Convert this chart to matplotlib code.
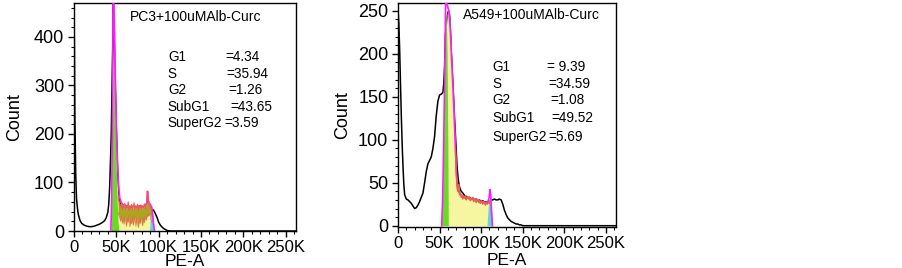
import numpy as np
import matplotlib.pyplot as plt
from matplotlib.ticker import MultipleLocator, FuncFormatter

plt.rcParams['font.family'] = ['Liberation Sans', 'DejaVu Sans']

# ---- PC3 panel (x in K) ----
pc3_x = [0, 0.5, 1, 2, 3, 4, 5, 7, 9, 12, 15, 18, 21, 24, 27, 30, 33, 36, 38, 40, 41, 42,
         43, 44, 45, 46, 46.5, 47, 48, 49, 50, 51, 52, 53, 54, 56, 58, 60, 64, 68, 72, 76,
         80, 84, 88, 90, 92, 94, 96, 98, 100, 102, 104, 106, 108, 110, 114, 262]
pc3_y = [460, 380, 240, 120, 66, 48, 35, 22, 16, 12, 10, 9, 9, 10, 12, 14, 17, 21, 27, 39, 55, 85,
         140, 200, 310, 410, 470, 430, 350, 280, 210, 150, 100, 75, 60, 48, 42, 40, 38, 36, 37, 36,
         38, 37, 40, 42, 44, 43, 36, 28, 18, 12, 8, 5, 3, 1, 0, 0]

pc3_g1_x = [44, 45, 46, 47, 48, 49, 50, 51, 52, 53]
pc3_g1_y = [0, 110, 320, 450, 390, 240, 130, 60, 20, 0]

pc3_sfit_x = [45, 46, 47, 48, 49, 50, 51, 52, 54, 56, 60, 70, 80, 90, 92, 93]
pc3_sfit_y = [0, 150, 300, 280, 200, 130, 90, 70, 50, 40, 32, 28, 27, 27, 25, 0]

pc3_s_x = np.arange(52, 93)
pc3_s_hi = [70, 62, 55, 50, 58, 45, 52, 48, 57, 44, 50, 47, 60, 42, 52, 46, 55, 44, 50, 58,
            43, 52, 47, 55, 42, 50, 46, 54, 45, 52, 48, 56, 50, 46, 66, 80, 62, 56, 50, 45, 38]
pc3_s_lo = [38, 32, 28, 20, 30, 16, 26, 14, 30, 20, 10, 26, 18, 32, 9, 24, 15, 28, 12, 22,
            30, 10, 26, 18, 7, 24, 15, 28, 20, 11, 26, 17, 30, 22, 28, 34, 30, 36, 30, 22, 18]

pc3_g2_x = [89, 90, 91, 92, 93, 94, 95, 96]
pc3_g2_y = [0, 20, 32, 35, 30, 18, 6, 0]

pc3_fit_x = [43.5, 44.5, 45.5, 46.2, 47, 48, 49, 50, 51, 52, 53, 54, 56, 58, 62, 66, 70, 74, 78,
             82, 84, 86, 86.8, 87.5, 88.5, 90, 92, 93, 94, 95]
pc3_fit_y = [0, 60, 250, 480, 470, 400, 300, 220, 160, 115, 85, 68, 58, 54, 52, 50, 51, 50, 52,
             50, 52, 58, 82, 65, 58, 55, 48, 32, 12, 0]

# ---- A549 panel ----
a549_x = [0, 1, 2, 3, 4, 5, 6, 7, 8, 10, 12, 14, 16, 18, 20, 22, 24, 26, 28, 30, 32, 34, 36, 38,
          40, 42, 44, 46, 48, 50, 52, 54, 55, 56, 57, 58, 59, 60, 61, 62, 63, 64, 65, 66, 67, 68,
          69, 70, 71, 72, 73, 74, 76, 78, 80, 82, 84, 86, 88, 90, 92, 94, 96, 98, 100, 102, 104,
          106, 108, 110, 112, 114, 116, 118, 120, 122, 124, 126, 128, 130, 132, 134, 136, 138,
          140, 142, 144, 146, 148, 150, 262]
a549_y = [252, 235, 205, 165, 127, 95, 69, 48, 36, 31, 30, 28, 26, 23, 20, 21, 24, 28, 33, 38, 50,
          63, 72, 76, 80, 90, 104, 128, 145, 152, 153, 155, 165, 185, 222, 232, 240, 248, 250, 245,
          228, 205, 185, 165, 146, 125, 107, 88, 69, 58, 50, 45, 40, 38, 35, 34, 32, 33, 31, 32,
          30, 31, 29, 30, 28, 29, 27, 28, 26, 28, 30, 30, 31, 30, 30, 31, 30, 25, 18, 13, 9, 7, 5,
          4, 3, 2, 2, 1, 1, 0, 0]

a549_g1_x = [52, 53, 54, 55, 56, 57, 58, 59, 60, 60.5]
a549_g1_y = [0, 15, 50, 110, 180, 235, 248, 200, 90, 0]

a549_s_x = np.arange(54, 113)
a549_s_y = [0, 30, 80, 150, 210, 245, 255, 252, 240, 225, 200, 180, 160, 140, 115, 90,
            60, 45, 40, 48, 36, 38, 33, 35, 31, 34, 32, 35, 30, 33, 34, 31, 33, 29, 32, 30,
            33, 28, 31, 30, 27, 31, 29, 27, 30, 26, 28, 27, 25, 28, 26, 24, 27, 25, 26, 28,
            27, 25, 0]

a549_g2_x = [107, 108, 109, 110, 111, 112, 113, 114]
a549_g2_y = [0, 15, 28, 32, 33, 30, 15, 0]

a549_fit_x = [52.5, 53.5, 54.5, 55.5, 56.5, 57.3, 58, 59, 60, 61, 62, 63, 64, 65, 66, 67, 68, 69,
              70, 71, 72, 74, 78, 84, 90, 96, 102, 106, 108, 109.5, 110.5, 111.5, 112.5, 113.5]
a549_fit_y = [0, 25, 70, 130, 200, 262, 262, 258, 254, 250, 240, 225, 202, 182, 162, 140, 116, 92,
              68, 50, 42, 38, 34, 32, 31, 29, 28, 27, 28, 32, 42, 36, 15, 0]

pc3_title = 'PC3+100uMAlb-Curc'
a549_title = 'A549+100uMAlb-Curc'
phase_names = ['G1', 'S', 'G2', 'SubG1', 'SuperG2']
pc3_vals = ['=4.34', '=35.94', '=1.26', '=43.65', '=3.59']
a549_vals = ['= 9.39', '=34.59', '=1.08', '=49.52', '=5.69']

GREEN = '#66dd22'
YELLOW = '#f6f6a0'
OLIVE = '#aea424'
CYAN = '#55dde0'
MAGENTA = '#ff1aff'
RED = '#e8604a'


def kfmt(v, pos):
    return '0' if v == 0 else '%dK' % int(round(v / 1000))


def style(ax, ymax, ystep, yminor):
    ax.set_xlim(0, 262144)
    ax.set_ylim(0, ymax)
    ax.xaxis.set_major_locator(MultipleLocator(50000))
    ax.xaxis.set_minor_locator(MultipleLocator(10000))
    ax.xaxis.set_major_formatter(FuncFormatter(kfmt))
    ax.yaxis.set_major_locator(MultipleLocator(ystep))
    ax.yaxis.set_minor_locator(MultipleLocator(yminor))
    ax.tick_params(which='major', direction='out', length=4, width=1, pad=3)
    ax.tick_params(which='minor', direction='out', length=2.5, width=0.8)
    ax.tick_params(axis='y', which='major', labelsize=13)
    ax.tick_params(axis='x', which='major', labelsize=12, pad=2.5)
    for s in ax.spines.values():
        s.set_linewidth(1)
    ax.set_xlabel('PE-A', fontsize=12.5)
    ax.set_ylabel('Count', fontsize=13)


fig = plt.figure(figsize=(9.02, 2.68), dpi=100)
ax1 = fig.add_axes([74 / 902, 37 / 268, 222 / 902, 228 / 268])
ax2 = fig.add_axes([398 / 902, 41 / 268, 218 / 902, 224 / 268])

k = 1000
# PC3: histogram behind, model components on top
ax1.plot(np.array(pc3_x) * k, pc3_y, color='black', lw=1.1, zorder=1)
ax1.fill_between(np.array(pc3_sfit_x) * k, pc3_sfit_y, color=YELLOW, lw=0, zorder=2)
ax1.fill_between(pc3_s_x * k, pc3_s_lo, pc3_s_hi, color=OLIVE, lw=0, zorder=2)
ax1.fill_between(np.array(pc3_g1_x) * k, pc3_g1_y, color=GREEN, lw=0, zorder=2)
ax1.fill_between(np.array(pc3_g2_x) * k, pc3_g2_y, color=CYAN, lw=0, zorder=2)
ax1.plot(np.array(pc3_fit_x) * k, pc3_fit_y, color=MAGENTA, lw=1.2, zorder=3)
ax1.plot(pc3_s_x * k, pc3_s_hi, color=RED, lw=0.8, zorder=3)
ax1.plot(pc3_s_x * k, pc3_s_lo, color=RED, lw=0.6, alpha=0.8, zorder=3)
style(ax1, 470, 100, 20)
ax1.yaxis.set_label_coords(-0.23, 0.5)
ax1.xaxis.set_label_coords(0.5, -0.1)
ax1.text(0.252, 0.94, pc3_title, transform=ax1.transAxes, fontsize=10, va='center')
pc3_val_x = [0.68, 0.687, 0.695, 0.703, 0.676]
pc3_row_y = [0.763, 0.689, 0.618, 0.544, 0.474]
for name, val, vx, ry in zip(phase_names, pc3_vals, pc3_val_x, pc3_row_y):
    ax1.text(0.423, ry, name, transform=ax1.transAxes, fontsize=9.8, va='center')
    ax1.text(vx, ry, val, transform=ax1.transAxes, fontsize=9.8, va='center')

# A549
s_x = a549_s_x * k
ax2.plot(np.array(a549_x) * k, a549_y, color='black', lw=1.1, zorder=1)
ax2.fill_between(s_x, a549_s_y, color=YELLOW, lw=0, zorder=2)
ax2.fill_between(np.array(a549_g1_x) * k, a549_g1_y, color=GREEN, lw=0, zorder=2)
ax2.fill_between(np.array(a549_g2_x) * k, a549_g2_y, color=CYAN, lw=0, zorder=2)
ax2.plot(np.array(a549_fit_x) * k, a549_fit_y, color=MAGENTA, lw=1.2, zorder=3)
m = (a549_s_x >= 69) & (a549_s_x <= 111)
ax2.plot(s_x[m], np.array(a549_s_y)[m], color=RED, lw=1.0, zorder=3)
style(ax2, 259, 50, 10)
ax2.set_ylim(-1.5, 259)
ax2.yaxis.set_label_coords(-0.215, 0.5)
ax2.xaxis.set_label_coords(0.5, -0.115)
ax2.text(0.30, 0.946, a549_title, transform=ax2.transAxes, fontsize=10, va='center')
a549_val_x = [0.682, 0.69, 0.70, 0.705, 0.69]
a549_row_y = [0.715, 0.638, 0.567, 0.485, 0.402]
for name, val, vx, ry in zip(phase_names, a549_vals, a549_val_x, a549_row_y):
    ax2.text(0.433, ry, name, transform=ax2.transAxes, fontsize=9.8, va='center')
    ax2.text(vx, ry, val, transform=ax2.transAxes, fontsize=9.8, va='center')

fig.savefig('out.png', dpi=100)
